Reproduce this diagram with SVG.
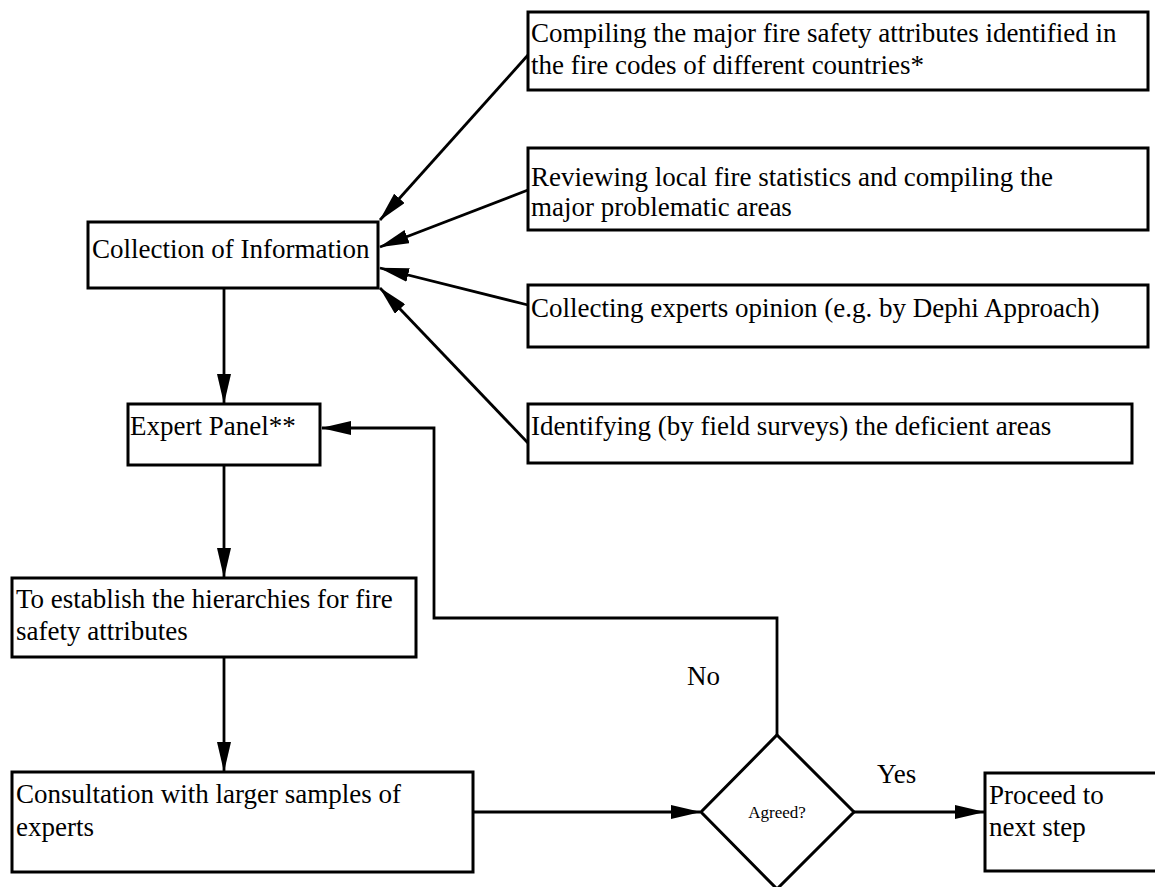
<svg xmlns="http://www.w3.org/2000/svg" width="1155" height="887" viewBox="0 0 1155 887">
<style>
.box{fill:#fff;stroke:#000;stroke-width:3}
.t{font-family:"Liberation Serif","Times New Roman",serif;font-size:27px;fill:#000}
.s{font-family:"Liberation Serif","Times New Roman",serif;font-size:17px;fill:#000}
.c{fill:none;stroke:#000;stroke-width:2.8}
</style>
<defs>
<marker id="ah" viewBox="0 0 30 14" refX="29" refY="7" markerWidth="30" markerHeight="14" markerUnits="userSpaceOnUse" orient="auto">
<path d="M0,0 L30,7 L0,14 z" fill="#000"/>
</marker>
</defs>
<rect width="1155" height="887" fill="#fff"/>
<g id="connectors">
<line class="c" x1="528" y1="55" x2="380" y2="220" marker-end="url(#ah)"/>
<line class="c" x1="528" y1="190" x2="380" y2="247" marker-end="url(#ah)"/>
<line class="c" x1="528" y1="305" x2="380" y2="268" marker-end="url(#ah)"/>
<line class="c" x1="528" y1="443" x2="380" y2="288" marker-end="url(#ah)"/>
<line class="c" x1="224" y1="288" x2="224" y2="403" marker-end="url(#ah)"/>
<line class="c" x1="224" y1="465" x2="224" y2="577" marker-end="url(#ah)"/>
<line class="c" x1="224" y1="657" x2="224" y2="771" marker-end="url(#ah)"/>
<line class="c" x1="473" y1="812" x2="700" y2="812" marker-end="url(#ah)"/>
<line class="c" x1="854" y1="812" x2="984" y2="812" marker-end="url(#ah)"/>
<polyline class="c" points="777,735 777,618 434,618 434,428 322,428" marker-end="url(#ah)"/>
<text class="t" x="687" y="685">No</text>
<text class="t" x="877" y="783">Yes</text>
</g>
<g id="n1">
<rect class="box" x="528" y="12" width="620" height="78"/>
<text class="t" x="531" y="42">Compiling the major fire safety attributes identified in</text>
<text class="t" x="531" y="74">the fire codes of different countries*</text>
</g>
<g id="n2">
<rect class="box" x="528" y="148" width="620" height="82"/>
<text class="t" x="531" y="186">Reviewing local fire statistics and compiling the</text>
<text class="t" x="531" y="216">major problematic areas</text>
</g>
<g id="n3">
<rect class="box" x="528" y="285" width="620" height="62"/>
<text class="t" x="531" y="317">Collecting experts opinion (e.g. by Dephi Approach)</text>
</g>
<g id="n4">
<rect class="box" x="528" y="404" width="604" height="59"/>
<text class="t" x="531" y="435">Identifying (by field surveys) the deficient areas</text>
</g>
<g id="collection">
<rect class="box" x="88" y="222" width="290" height="66"/>
<text class="t" x="92" y="258">Collection of Information</text>
</g>
<g id="expert">
<rect class="box" x="128" y="404" width="192" height="61"/>
<text class="t" x="130" y="435">Expert Panel**</text>
</g>
<g id="establish">
<rect class="box" x="12" y="578" width="404" height="79"/>
<text class="t" x="16" y="608">To establish the hierarchies for fire</text>
<text class="t" x="16" y="640">safety attributes</text>
</g>
<g id="consult">
<rect class="box" x="12" y="772" width="461" height="100"/>
<text class="t" x="16" y="803">Consultation with larger samples of</text>
<text class="t" x="16" y="836">experts</text>
</g>
<g id="agreed">
<polygon class="box" points="777,735 854,812 777,889 701,812"/>
<text class="s" x="777" y="818" text-anchor="middle">Agreed?</text>
</g>
<g id="proceed">
<rect class="box" x="985" y="773" width="180" height="98"/>
<text class="t" x="989" y="804">Proceed to</text>
<text class="t" x="989" y="836">next step</text>
</g>
</svg>
